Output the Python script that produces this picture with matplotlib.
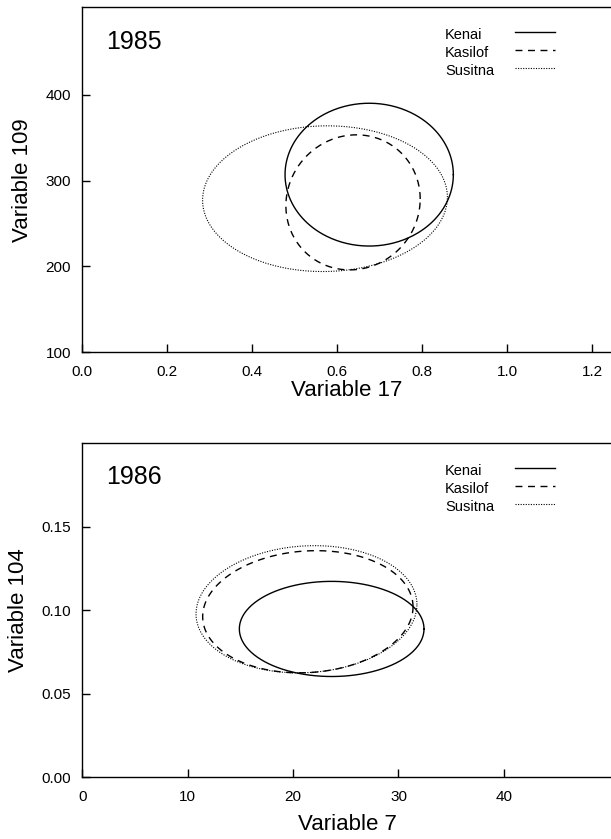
import matplotlib
matplotlib.use("Agg")
import matplotlib.pyplot as plt
from matplotlib.lines import Line2D
import numpy as np

plt.rcParams['font.family'] = ['Liberation Sans', 'DejaVu Sans']

rivers = ["Kenai", "Kasilof", "Susitna"]
styles = ["-", (0, (5, 4)), (0, (1, 1.3))]
widths = [1.0, 1.0, 0.8]

# 1985: ellipse centre, half ranges and tilt phase
cx_85 = [0.675, 0.637, 0.571]
cy_85 = [307.0, 274.7, 279.0]
ax_85 = [0.198, 0.158, 0.288]
ay_85 = [83.2, 78.7, 84.9]
ph_85 = [0.0, 0.05, 0.02]

# 1986
cx_86 = [23.66, 21.40, 21.27]
cy_86 = [0.0889, 0.0992, 0.1007]
ax_86 = [8.76, 9.98, 10.48]
ay_86 = [0.0285, 0.0366, 0.0381]
ph_86 = [0.0, 0.08, 0.074]

xticks_85 = [0.0, 0.2, 0.4, 0.6, 0.8, 1.0, 1.2]
yticks_85 = [100, 200, 300, 400]
xticks_86 = [0, 10, 20, 30, 40]
yticks_86 = [0.00, 0.05, 0.10, 0.15]

t = np.linspace(0, 2 * np.pi, 400)

W, H = 611.0, 839.0
fig = plt.figure(figsize=(6.11, 8.39), dpi=100)
ax1 = fig.add_axes([0.1347, 0.5801, 0.9043, 0.4112])
ax2 = fig.add_axes([0.1347, 0.0735, 0.897, 0.3979])


def panel(ax, cx, cy, hx, hy, ph, year, xlabel, ylabel, xlim, ylim,
          xticks, yticks, xfmt, yfmt, leg_top, xlpad, xlx):
    for i in range(3):
        xs = cx[i] + hx[i] * np.cos(t)
        ys = cy[i] + hy[i] * np.sin(t + ph[i])
        ax.plot(xs, ys, color="black", linestyle=styles[i],
                linewidth=widths[i])
    ax.set_xlim(*xlim)
    ax.set_ylim(*ylim)
    ax.set_xticks(xticks)
    ax.set_yticks(yticks)
    ax.set_xticklabels([xfmt.format(v) for v in xticks])
    ax.set_yticklabels([yfmt.format(v) for v in yticks])
    ax.tick_params(direction="in", length=6, width=1.0, labelsize=11)
    ax.tick_params(axis="x", pad=9)
    ax.tick_params(axis="y", pad=8)
    ax.spines["right"].set_visible(False)
    for s in ["left", "bottom", "top"]:
        ax.spines[s].set_linewidth(1.0)
    ax.set_xlabel(xlabel, fontsize=16, labelpad=xlpad)
    ax.xaxis.label.set_x(xlx)
    ax.set_ylabel(ylabel, fontsize=16, labelpad=9)
    ax.text(0.043, 0.88, year, transform=ax.transAxes, fontsize=18,
            va="baseline")
    # legend: label text on the left, line sample on the right
    for i in range(3):
        yc = leg_top + 18 * i
        fig.text(445 / W, 1 - yc / H, rivers[i], fontsize=10.5,
                 va="center", ha="left")
        fig.add_artist(Line2D([515 / W, 555 / W],
                              [1 - (yc - 3) / H, 1 - (yc - 3) / H],
                              transform=fig.transFigure, color="black",
                              linestyle=styles[i], linewidth=widths[i]))


panel(ax1, cx_85, cy_85, ax_85, ay_85, ph_85, "1985", "Variable 17",
      "Variable 109", (0, 1.3), (100, 502), xticks_85, yticks_85,
      "{:.1f}", "{:.0f}", 35.0, 1, 0.479)
panel(ax2, cx_86, cy_86, ax_86, ay_86, ph_86, "1986", "Variable 7",
      "Variable 104", (0, 52), (0, 0.2), xticks_86, yticks_86,
      "{:.0f}", "{:.2f}", 471.0, 7, 0.484)

fig.savefig("out.png", dpi=100)
